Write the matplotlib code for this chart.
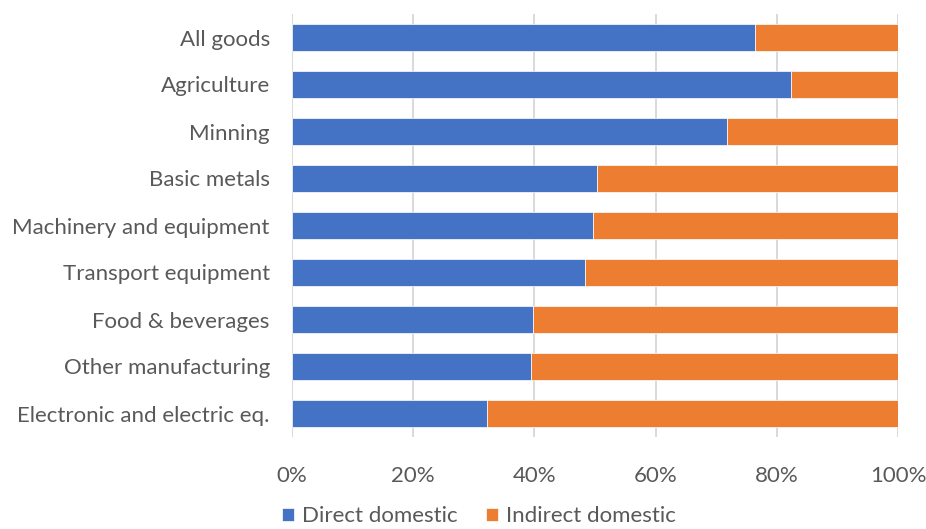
import matplotlib.pyplot as plt
from matplotlib.ticker import FuncFormatter

categories = ["All goods", "Agriculture", "Minning", "Basic metals",
              "Machinery and equipment", "Transport equipment",
              "Food & beverages", "Other manufacturing",
              "Electronic and electric eq."]
direct = [76.4, 82.4, 71.8, 50.4, 49.6, 48.3, 39.7, 39.5, 32.2]
indirect = [100 - d for d in direct]
xticks = [0, 20, 40, 60, 80, 100]

plt.rcParams['font.family'] = ['Lato', 'DejaVu Sans']
text_col = '#595959'

fig = plt.figure(figsize=(9.26, 5.29), dpi=100)
ax = fig.add_axes([292 / 926, 1 - 437 / 529, 606 / 926, 423 / 529])

y = list(range(len(categories)))
ax.barh(y, direct, height=0.555, color='#4472C4', edgecolor='white',
        linewidth=0.5, label='Direct domestic', zorder=3)
ax.barh(y, indirect, left=direct, height=0.555, color='#ED7D31',
        edgecolor='white', linewidth=0.5, label='Indirect domestic', zorder=3)

ax.set_ylim(len(categories) - 0.5, -0.5)
ax.set_xlim(0, 100)
ax.set_yticks(y)
ax.set_yticklabels(categories)
ax.set_xticks(xticks)
ax.xaxis.set_major_formatter(FuncFormatter(lambda v, p: f"{v:.0f}%"))

ax.tick_params(axis='y', length=0, pad=16, labelsize=16, labelcolor=text_col)
ax.tick_params(axis='x', length=0, pad=21, labelsize=16, labelcolor=text_col)
ax.grid(axis='x', color='#D9D9D9', linewidth=1.4, zorder=0)
for s in ax.spines.values():
    s.set_visible(False)

fig.legend(loc='center', bbox_to_anchor=(0.517, 0.024), ncol=2, frameon=False,
           fontsize=16, labelcolor=text_col, handlelength=0.55,
           handleheight=0.55, handletextpad=0.35, columnspacing=1.3,
           borderaxespad=0, borderpad=0)

fig.savefig('out.png', dpi=100)
